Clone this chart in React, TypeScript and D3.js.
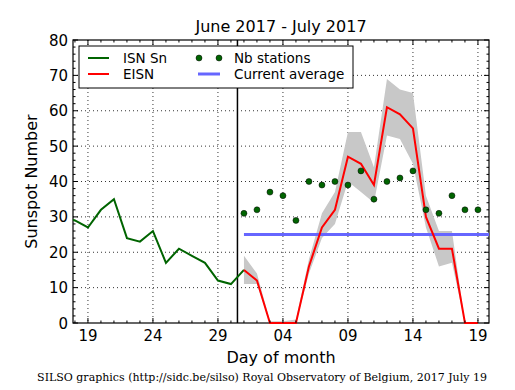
import { useEffect, useRef } from 'react'
import * as d3 from 'd3'

// day numbers: June d = d, July d = 30 + d
const isnDays = [17, 18, 19, 20, 21, 22, 23, 24, 25, 26, 27, 28, 29, 30, 31]
const isnValues = [30, 29, 27, 32, 35, 24, 23, 26, 17, 21, 19, 17, 12, 11, 15]

const eisnDays = [31, 32, 33, 34, 35, 36, 37, 38, 39, 40, 41, 42, 43, 44, 45, 46, 47, 48, 49]
const eisnValues = [15, 12, 0, 0, 0, 16, 27, 32, 47, 45, 39, 61, 59, 55, 30, 21, 21, 0, 0]
const bandUpper = [19, 14, 0.5, 0.5, 1, 18, 31, 37, 54, 54, 44, 69, 66, 65, 36, 26, 26, 0, 0]
const bandLower = [11, 11, 0, 0, 0, 14, 24, 28, 40, 37, 34, 53, 52, 45, 27, 16, 17, 0, 0]
const stationValues = [31, 32, 37, 36, 29, 40, 39, 40, 39, 43, 35, 40, 41, 43, 32, 31, 36, 32, 32]

const currentAverage = 25
const monthBoundary = 30.5

const xTicks = [19, 24, 29, 34, 39, 44, 49]
const xTickLabels = ['19', '24', '29', '04', '09', '14', '19']
const yTicks = [0, 10, 20, 30, 40, 50, 60, 70, 80]

const W = 515
const H = 390
const FONT = 'DejaVu Sans, sans-serif'

export default function App() {
  const ref = useRef<SVGSVGElement>(null)

  useEffect(() => {
    document.body.style.margin = '0'
    if (!ref.current) return
    const svg = d3.select(ref.current)
    svg.selectAll('*').remove()

    const left = 73, right = 489, top = 40, bottom = 323
    const x = d3.scaleLinear().domain([17.85, 49.85]).range([left, right])
    const y = d3.scaleLinear().domain([0, 80]).range([bottom, top])

    svg.append('rect').attr('width', W).attr('height', H).attr('fill', 'white')

    svg.append('defs').append('clipPath').attr('id', 'plotclip')
      .append('rect').attr('x', left).attr('y', top)
      .attr('width', right - left).attr('height', bottom - top + 1.5)

    const grid = svg.append('g')
    xTicks.forEach(t => {
      grid.append('line').attr('x1', x(t)).attr('x2', x(t)).attr('y1', top).attr('y2', bottom)
        .attr('stroke', 'black').attr('stroke-width', 0.8).attr('stroke-dasharray', '1,3')
    })
    yTicks.slice(1, -1).forEach(t => {
      grid.append('line').attr('x1', left).attr('x2', right).attr('y1', y(t)).attr('y2', y(t))
        .attr('stroke', 'black').attr('stroke-width', 0.8).attr('stroke-dasharray', '1,3')
    })

    // frame first so the zero-level red line stays visible on top of it
    svg.append('rect').attr('x', left).attr('y', top)
      .attr('width', right - left).attr('height', bottom - top)
      .attr('fill', 'none').attr('stroke', 'black').attr('stroke-width', 1.2)

    const plot = svg.append('g').attr('clip-path', 'url(#plotclip)')

    // uncertainty band
    const area = d3.area<number>()
      .x((_, i) => x(eisnDays[i]))
      .y0((_, i) => y(bandLower[i]))
      .y1(d => y(d))
    plot.append('path').datum(bandUpper).attr('d', area).attr('fill', '#c8c8c8')

    // month boundary
    plot.append('line').attr('x1', x(monthBoundary)).attr('x2', x(monthBoundary))
      .attr('y1', top).attr('y2', bottom).attr('stroke', 'black').attr('stroke-width', 1.5)

    const line = d3.line<number>()
    plot.append('path')
      .attr('d', line.x((_, i) => x(isnDays[i])).y(d => y(d))(isnValues))
      .attr('fill', 'none').attr('stroke', '#006400').attr('stroke-width', 2)

    plot.append('line').attr('x1', x(eisnDays[0])).attr('x2', x(49.85))
      .attr('y1', y(currentAverage)).attr('y2', y(currentAverage))
      .attr('stroke', '#6666ff').attr('stroke-width', 3)

    plot.append('path')
      .attr('d', d3.line<number>().x((_, i) => x(eisnDays[i])).y(d => y(d))(eisnValues))
      .attr('fill', 'none').attr('stroke', 'red').attr('stroke-width', 2)

    plot.selectAll('circle.st').data(stationValues).enter().append('circle')
      .attr('cx', (_, i) => x(eisnDays[i])).attr('cy', d => y(d)).attr('r', 3)
      .attr('fill', '#006400').attr('stroke', 'black').attr('stroke-width', 0.5)

    // ticks on all sides, inward
    const ticks = svg.append('g').attr('stroke', 'black').attr('stroke-width', 1)
    d3.range(18, 50).forEach(d => {
      const major = xTicks.includes(d)
      const len = major ? 5 : 2.5
      ticks.append('line').attr('x1', x(d)).attr('x2', x(d)).attr('y1', bottom).attr('y2', bottom - len)
      ticks.append('line').attr('x1', x(d)).attr('x2', x(d)).attr('y1', top).attr('y2', top + len)
    })
    d3.range(0, 81, 2).forEach(v => {
      const major = v % 10 === 0
      const len = major ? 5 : 2.5
      ticks.append('line').attr('x1', left).attr('x2', left + len).attr('y1', y(v)).attr('y2', y(v))
      ticks.append('line').attr('x1', right).attr('x2', right - len).attr('y1', y(v)).attr('y2', y(v))
    })

    // tick labels
    xTicks.forEach((t, i) => {
      svg.append('text').attr('x', x(t)).attr('y', bottom + 18).attr('text-anchor', 'middle')
        .attr('font-family', FONT).attr('font-size', 15).text(xTickLabels[i])
    })
    yTicks.forEach(t => {
      svg.append('text').attr('x', left - 5).attr('y', y(t) + 5.5).attr('text-anchor', 'end')
        .attr('font-family', FONT).attr('font-size', 15).text(String(t))
    })

    svg.append('text').attr('x', (left + right) / 2).attr('y', 32).attr('text-anchor', 'middle')
      .attr('font-family', FONT).attr('font-size', 16).text('June 2017 - July 2017')
    svg.append('text').attr('x', (left + right) / 2).attr('y', 363).attr('text-anchor', 'middle')
      .attr('font-family', FONT).attr('font-size', 16).text('Day of month')
    svg.append('text').attr('transform', `translate(37, ${(top + bottom) / 2}) rotate(-90)`)
      .attr('text-anchor', 'middle').attr('font-family', FONT).attr('font-size', 16).text('Sunspot Number')
    svg.append('text').attr('x', 262).attr('y', 381).attr('text-anchor', 'middle')
      .attr('font-family', 'DejaVu Serif, serif').attr('font-size', 11)
      .text('SILSO graphics (http://sidc.be/silso) Royal Observatory of Belgium, 2017 July 19')

    // legend
    const lg = svg.append('g')
    lg.append('rect').attr('x', 79).attr('y', 46).attr('width', 274).attr('height', 42)
      .attr('fill', 'white').attr('stroke', 'black').attr('stroke-width', 1)
    const row1 = 58, row2 = 74
    lg.append('line').attr('x1', 88).attr('x2', 109).attr('y1', row1).attr('y2', row1)
      .attr('stroke', '#006400').attr('stroke-width', 2)
    lg.append('line').attr('x1', 88).attr('x2', 109).attr('y1', row2).attr('y2', row2)
      .attr('stroke', 'red').attr('stroke-width', 2)
    ;[199, 219].forEach(cx => {
      lg.append('circle').attr('cx', cx).attr('cy', row1).attr('r', 3)
        .attr('fill', '#006400').attr('stroke', 'black').attr('stroke-width', 0.5)
    })
    lg.append('line').attr('x1', 198).attr('x2', 220).attr('y1', row2).attr('y2', row2)
      .attr('stroke', '#6666ff').attr('stroke-width', 3)
    const labels: [number, number, string][] = [
      [123, row1, 'ISN Sn'], [123, row2, 'EISN'],
      [234, row1, 'Nb stations'], [234, row2, 'Current average'],
    ]
    labels.forEach(([lx, ly, s]) => {
      lg.append('text').attr('x', lx).attr('y', ly + 5).attr('font-family', FONT)
        .attr('font-size', 13.5).text(s)
    })
  }, [])

  return <svg ref={ref} width={W} height={H} style={{ display: 'block' }} />
}
